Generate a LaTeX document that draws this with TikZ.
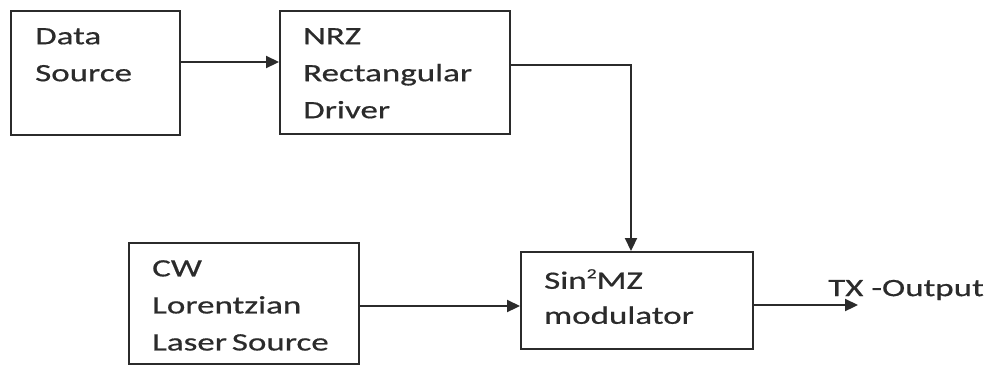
\documentclass[tikz,border=0pt]{standalone}
\usepackage{fontspec}
\setmainfont{Carlito}[FakeStretch=1.4, FakeBold=0.6]
\usetikzlibrary{arrows.meta,positioning}

\definecolor{ink}{HTML}{2b2b2b}

\newcommand{\smallsq}{\raisebox{0.42em}{\fontsize{14}{14}\selectfont 2}}

\tikzset{
  blockbox/.style={draw=ink, line width=2.2pt, rectangle, inner sep=0pt},
  blocktext/.style={anchor=north west, align=left, inner sep=0pt,
    font=\fontsize{25}{37}\selectfont, text=ink},
  flow/.style={draw=ink, line width=2.2pt, -{Triangle[length=13pt,width=12pt]}},
}

\begin{document}
\begin{tikzpicture}[x=1pt,y=-1pt]
  \useasboundingbox (0,0) rectangle (990,365);

  % processing blocks
  \node[blockbox, minimum width=169pt, minimum height=124pt, anchor=north west] (data) at (10,10) {};
  \node[blockbox, minimum width=230pt, minimum height=123pt, anchor=north west] (nrz) at (279,10) {};
  \node[blockbox, minimum width=230pt, minimum height=121pt, anchor=north west] (cw) at (128,242) {};
  \node[blockbox, minimum width=232pt, minimum height=97pt, anchor=north west] (mzm) at (520,251) {};

  % block captions
  \node[blocktext] (datatxt) at (35,28) {Data\\Source};
  \node[blocktext] (nrztxt) at (303,28) {NRZ\\Rectangular\\Driver};
  \node[blocktext] (cwtxt) at (152,260) {CW\\Lorentzian\\Laser\hspace{-3pt} Source};
  \node[blocktext, font=\fontsize{25}{35}\selectfont] (mzmtxt) at (544,269) {Sin\smallsq MZ\\modulator};

  % output terminal
  \coordinate (txend) at (858,305);
  \node[anchor=west, inner sep=0pt, font=\fontsize{25}{30}\selectfont, text=ink] (txlabel) at (828,290) {TX -Output};

  % connections
  \draw[flow] (data.east |- 0,62) -- (nrz.west |- 0,62);
  \draw[flow] (nrz.east |- 0,65) -| (mzm.north -| 631,0);
  \draw[flow] (cw.east |- 0,306) -- (mzm.west |- 0,306);
  \draw[flow] (mzm.east |- txend) -- (txend);
\end{tikzpicture}
\end{document}
